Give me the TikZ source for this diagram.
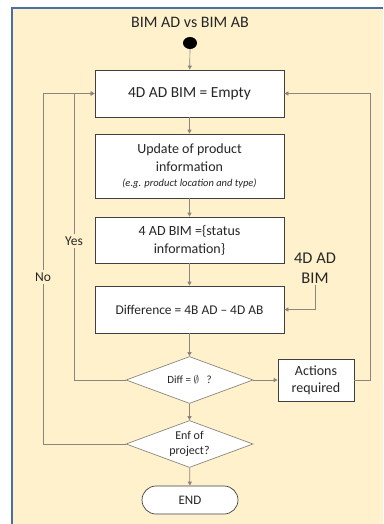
\documentclass[tikz,border=0pt]{standalone}
\usepackage{fontspec}
\setmainfont{Carlito}
\usetikzlibrary{shapes.geometric,arrows.meta}

\definecolor{bgyellow}{RGB}{255,241,204}
\definecolor{frameblue}{RGB}{74,110,168}
\definecolor{linegray}{RGB}{138,134,124}

\tikzset{
  box/.style={draw=black!75, fill=white, line width=0.7pt, minimum width=189pt, align=center, inner sep=2pt},
  dec/.style={diamond, draw=linegray, fill=white, line width=0.7pt, aspect=2.7, minimum width=127pt, minimum height=47pt, inner sep=0pt, align=center},
  flow/.style={draw=linegray, line width=0.7pt, -{Triangle[length=4pt,width=4pt]}},
  plain/.style={draw=linegray, line width=0.7pt},
  lbl/.style={inner sep=2pt, align=center}
}

\begin{document}
\begin{tikzpicture}[x=1pt, y=-1pt, every node/.append style={text=black!85}]
\useasboundingbox (0,0) rectangle (383,524);
\fill[bgyellow] (12,8) rectangle (383,524);
\draw[frameblue, line width=1.2pt] (12,524) -- (12,8) -- (383,8);

		\node [font=\fontsize{16}{18}\selectfont] (title) at (190,22) {BIM AD vs BIM AB};
		\node [ellipse, fill=black, minimum width=14pt, minimum height=12pt, inner sep=0pt] (start) at (190,43) {};
		\node [box, minimum height=47pt, font=\fontsize{15.4}{18}\selectfont] (empty) at (189.5,93.5) {4D AD BIM = Empty};
		\node [box, minimum height=64pt, font=\fontsize{14}{18}\selectfont] (update) at (189.5,166) {Update of product\\information\\[-3pt]{\fontsize{10.5}{12}\selectfont\itshape (e.g. product location and type)}};
		\node [box, minimum height=46pt, font=\fontsize{14}{18}\selectfont] (status) at (189.5,240) {4 AD BIM =\{status\\information\}};
		\node [box, minimum height=47pt, font=\fontsize{13.4}{18}\selectfont] (diffbox) at (189.5,309.5) {Difference = 4B AD – 4D AB};
		\node [dec, font=\fontsize{11}{13}\selectfont] (empt) at (189.5,380) {Diff = $\emptyset$\ \ \ ?};
		\node [dec, font=\fontsize{12}{15}\selectfont] (projend) at (189.5,444) {Enf of\\project?};
		\node [draw=black!75, fill=white, line width=0.7pt, minimum width=76pt, minimum height=42pt, align=center, font=\fontsize{14}{17}\selectfont] (act) at (316,380) {Actions\\required};
		\node [draw=black!75, fill=white, line width=0.7pt, rounded corners=14pt, minimum width=96pt, minimum height=28pt, font=\fontsize{13}{15}\selectfont] (stop) at (190,500) {END};

		\node [lbl, font=\fontsize{16.4}{20}\selectfont] (bimlbl) at (315,268) {4D AD\\BIM};
		\node [lbl, font=\fontsize{13.5}{15}\selectfont] (yes) at (74,241) {Yes};
		\node [lbl, font=\fontsize{13.5}{15}\selectfont] (no) at (43,277) {No};
		\coordinate (rloop) at (370,0);

		\draw [flow] (start) to (empty);
		\draw [flow] (empty) to (update);
		\draw [flow] (update) to (status);
		\draw [flow] (status) to (diffbox);
		\draw [flow] (diffbox) to (empt);
		\draw [flow] (empt) to (act);
		\draw [flow] (empt) to (projend);
		\draw [flow] (projend) to (stop);
		\draw [flow] (bimlbl.south) |- (diffbox.east);
		\draw [flow] (act.east) -- (act.east -| rloop) |- (empty.east);
		\draw [plain] (empt.west) -| (yes.south);
		\draw [flow] (yes.north) |- (empty.west);
		\draw [plain] (projend.west) -| (no.south);
		\draw [flow] (no.north) |- (empty.west);
\end{tikzpicture}
\end{document}
